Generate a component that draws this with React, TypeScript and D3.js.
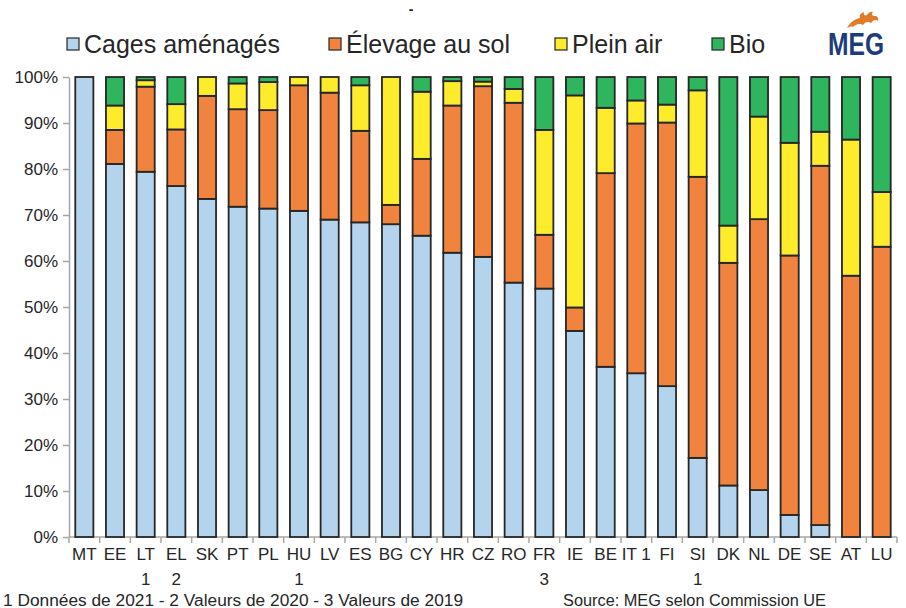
import { useEffect, useRef } from 'react';
import * as d3 from 'd3';

const countries = ['MT', 'EE', 'LT', 'EL', 'SK', 'PT', 'PL', 'HU', 'LV', 'ES', 'BG', 'CY', 'HR', 'CZ', 'RO', 'FR', 'IE', 'BE', 'IT', 'FI', 'SI', 'DK', 'NL', 'DE', 'SE', 'AT', 'LU'];
const xLabels = ['MT', 'EE', 'LT', 'EL', 'SK', 'PT', 'PL', 'HU', 'LV', 'ES', 'BG', 'CY', 'HR', 'CZ', 'RO', 'FR', 'IE', 'BE', 'IT 1', 'FI', 'SI', 'DK', 'NL', 'DE', 'SE', 'AT', 'LU'];
const xNotes = ['', '', '1', '2', '', '', '', '1', '', '', '', '', '', '', '', '3', '', '', '', '', '1', '', '', '', '', '', ''];

// parts in %, per country
const cages = [100, 81.1, 79.4, 76.3, 73.5, 71.8, 71.4, 70.9, 69, 68.4, 68, 65.5, 61.8, 60.9, 55.3, 54, 44.8, 37, 35.6, 32.8, 17.2, 11.2, 10.2, 4.8, 2.6, 0, 0];
const elevage = [0, 7.4, 18.5, 12.3, 22.4, 21.2, 21.4, 27.3, 27.6, 19.9, 4.2, 16.7, 32, 37.1, 39.1, 11.7, 5.1, 42.1, 54.3, 57.3, 61.1, 48.4, 58.9, 56.4, 78.1, 56.8, 63.1];
const pleinAir = [0, 5.3, 1.4, 5.5, 4.1, 5.6, 6.1, 1.8, 3.4, 9.9, 27.8, 14.6, 5.3, 1, 3, 22.8, 46.1, 14.2, 5, 3.9, 18.8, 8.1, 22.3, 24.5, 7.4, 29.6, 11.9];
const bio = [0, 6.2, 0.7, 5.9, 0, 1.4, 1.1, 0, 0, 1.8, 0, 3.2, 0.9, 1, 2.6, 11.5, 4, 6.7, 5.1, 6, 2.9, 32.3, 8.6, 14.3, 11.9, 13.6, 25];

const seriesKeys = ['cages', 'elevage', 'plein', 'bio'];
const seriesNames = ['Cages aménagés', 'Élevage au sol', 'Plein air', 'Bio'];
const seriesColors = ['#b4d3ec', '#f0843f', '#fdec2b', '#2fb55e'];
const yTicks = [0, 10, 20, 30, 40, 50, 60, 70, 80, 90, 100];
const legendX = [67, 329, 555, 712];

const footNote = '1 Données de 2021 - 2 Valeurs de 2020 - 3 Valeurs de 2019';
const sourceNote = 'Source: MEG selon Commission UE';

const FONT = '"Liberation Sans", Arial, sans-serif';

function EggChart() {
  const svgRef = useRef<SVGSVGElement>(null);
  const mountedRef = useRef(false);

  useEffect(() => {
    if (mountedRef.current) return;
    mountedRef.current = true;

    const svg = d3.select(svgRef.current);
    const left = 69;
    const right = 897;
    const top = 77;
    const bottom = 537;

    const rows = countries.map((c, i) => ({
      country: c,
      cages: cages[i],
      elevage: elevage[i],
      plein: pleinAir[i],
      bio: bio[i],
    }));

    const x = d3
      .scaleBand()
      .domain(countries)
      .range([left, right])
      .paddingInner(0.41)
      .paddingOuter(0.205);

    const y = d3.scaleLinear().domain([0, 100]).range([bottom, top]);

    const stacked = d3.stack().keys(seriesKeys)(rows as any);

    // y axis
    const yAxis = svg
      .append('g')
      .attr('transform', `translate(${left},0)`)
      .call(
        d3
          .axisLeft(y)
          .tickValues(yTicks)
          .tickFormat((d) => d + '%')
          .tickSize(6)
          .tickSizeOuter(0)
          .tickPadding(5)
      );
    yAxis.select('.domain').attr('stroke', '#a6a6a6').attr('stroke-width', 1.5);
    yAxis.selectAll('.tick line').attr('stroke', '#a6a6a6').attr('stroke-width', 1.5);
    yAxis
      .selectAll('.tick text')
      .attr('fill', '#262626')
      .style('font-family', FONT)
      .style('font-size', '17px');

    // x axis baseline + tick marks at category boundaries
    const xAxis = svg.append('g').attr('class', 'x-axis');
    xAxis
      .append('line')
      .attr('x1', left)
      .attr('x2', right)
      .attr('y1', bottom)
      .attr('y2', bottom)
      .attr('stroke', '#a6a6a6')
      .attr('stroke-width', 1.5);
    const half = (x.step() * x.paddingInner()) / 2;
    xAxis
      .selectAll('line.tk')
      .data(countries)
      .enter()
      .append('line')
      .attr('class', 'tk')
      .attr('x1', (d) => (x(d) as number) - half)
      .attr('x2', (d) => (x(d) as number) - half)
      .attr('y1', bottom)
      .attr('y2', bottom + 6)
      .attr('stroke', '#a6a6a6')
      .attr('stroke-width', 1.5);
    xAxis
      .append('line')
      .attr('x1', right)
      .attr('x2', right)
      .attr('y1', bottom)
      .attr('y2', bottom + 6)
      .attr('stroke', '#a6a6a6')
      .attr('stroke-width', 1.5);

    const cx = (d: string) => (x(d) as number) + x.bandwidth() / 2;

    xAxis
      .selectAll('text.lbl')
      .data(countries)
      .enter()
      .append('text')
      .attr('class', 'lbl')
      .attr('x', (d) => cx(d))
      .attr('y', 560)
      .attr('text-anchor', 'middle')
      .attr('fill', '#262626')
      .style('font-family', FONT)
      .style('font-size', '17px')
      .text((d, i) => xLabels[i]);
    xAxis
      .selectAll('text.note')
      .data(countries)
      .enter()
      .append('text')
      .attr('class', 'note')
      .attr('x', (d) => cx(d))
      .attr('y', 585)
      .attr('text-anchor', 'middle')
      .attr('fill', '#262626')
      .style('font-family', FONT)
      .style('font-size', '17px')
      .text((d, i) => xNotes[i]);

    // stacked bars
    stacked.forEach((layer, k) => {
      svg
        .append('g')
        .selectAll('rect')
        .data(layer.filter((s) => s[1] - s[0] > 0))
        .enter()
        .append('rect')
        .attr('x', (s: any) => x(s.data.country) as number)
        .attr('width', x.bandwidth())
        .attr('y', (s) => y(s[1]))
        .attr('height', (s) => y(s[0]) - y(s[1]))
        .attr('fill', seriesColors[k])
        .attr('stroke', '#262626')
        .attr('stroke-width', 1.8);
    });

    // legend
    const legend = svg.append('g');
    seriesNames.forEach((name, i) => {
      legend
        .append('rect')
        .attr('x', legendX[i])
        .attr('y', 38)
        .attr('width', 12)
        .attr('height', 12)
        .attr('fill', seriesColors[i])
        .attr('stroke', '#262626')
        .attr('stroke-width', 1.2);
      legend
        .append('text')
        .attr('x', legendX[i] + 17)
        .attr('y', 53)
        .attr('fill', '#262626')
        .style('font-family', FONT)
        .style('font-size', '25px')
        .text(name);
    });

    // stray dash on top
    svg
      .append('text')
      .attr('x', 411)
      .attr('y', 14)
      .attr('text-anchor', 'middle')
      .attr('fill', '#262626')
      .style('font-family', FONT)
      .style('font-size', '14px')
      .style('font-weight', 'bold')
      .text('-');

    // MEG logo
    const logo = svg.append('g');
    logo
      .append('path')
      .attr(
        'd',
        'M847,28 C850,22 855,19 860,18 C859,15 861,13 864,12 C863,15 865,16 867,15 C868,13 871,11 873,12 C871,14 872,16 875,16 C877,16 879,18 878,21 C876,19 873,20 871,23 C868,21 865,22 863,25 C860,23 856,24 853,27 C851,26 849,27 847,28 Z'
      )
      .attr('fill', '#e07b2a');
    logo
      .append('text')
      .attr('x', 856)
      .attr('y', 55)
      .attr('text-anchor', 'middle')
      .attr('textLength', 56)
      .attr('lengthAdjust', 'spacingAndGlyphs')
      .attr('fill', '#1d3c7c')
      .style('font-family', FONT)
      .style('font-size', '32px')
      .style('font-weight', 'bold')
      .text('MEG');

    // footer
    svg
      .append('text')
      .attr('x', 3)
      .attr('y', 606)
      .attr('textLength', 460)
      .attr('lengthAdjust', 'spacingAndGlyphs')
      .attr('fill', '#262626')
      .style('font-family', FONT)
      .style('font-size', '16px')
      .text(footNote);
    svg
      .append('text')
      .attr('x', 563)
      .attr('y', 606)
      .attr('textLength', 263)
      .attr('lengthAdjust', 'spacingAndGlyphs')
      .attr('fill', '#262626')
      .style('font-family', FONT)
      .style('font-size', '16px')
      .text(sourceNote);
  }, []);

  return (
    <svg
      ref={svgRef}
      width={906}
      height={608}
      style={{ position: 'absolute', left: 0, top: 0, background: '#fff' }}
    />
  );
}

export default function App() {
  return <EggChart />;
}
